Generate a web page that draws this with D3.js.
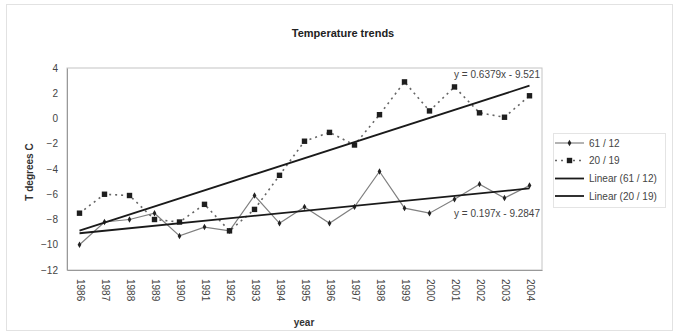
<!DOCTYPE html>
<html>
<head>
<meta charset="utf-8">
<script src="https://cdn.jsdelivr.net/npm/d3@7"></script>
<style>
  html, body { margin: 0; padding: 0; background: #fff; }
  svg { display: block; font-family: "Liberation Sans", Arial, sans-serif; }
</style>
</head>
<body>
<svg id="chart" width="678" height="334"></svg>
<script>
// Annual temperatures at two stations, 1986–2004
const years = ["1986","1987","1988","1989","1990","1991","1992","1993","1994","1995",
               "1996","1997","1998","1999","2000","2001","2002","2003","2004"];
const station61 = [-10.0,-8.2,-8.0,-7.5,-9.3,-8.6,-8.9,-6.1,-8.3,-7.0,
                   -8.3,-7.0,-4.2,-7.1,-7.5,-6.4,-5.2,-6.3,-5.3];
const station20 = [-7.5,-6.0,-6.1,-8.0,-8.2,-6.8,-8.9,-7.2,-4.5,-1.8,
                   -1.1,-2.1,0.3,2.9,0.6,2.5,0.45,0.1,1.8];
const yTicks = [4,2,0,-2,-4,-6,-8,-10,-12];

// Linear trend coefficients (x = 1..19)
const trendSlopes = [0.197, 0.6379];
const trendIntercepts = [-9.2847, -9.521];
const trendLabels = ["y = 0.197x - 9.2847", "y = 0.6379x - 9.521"];

const legendLabels = ["61 / 12", "20 / 19", "Linear (61 / 12)", "Linear (20 / 19)"];

const svg = d3.select("#chart");
const plot = { left: 67, right: 542, top: 68, bottom: 270 };

const x = d3.scalePoint().domain(years).range([plot.left, plot.right]).padding(0.5);
const y = d3.scaleLinear().domain([-12, 4]).range([plot.bottom, plot.top]);
const xi = i => x(years[i - 1]);

// outer chart frame
svg.append("rect").attr("x", 6.5).attr("y", 4.5).attr("width", 666).attr("height", 326)
  .attr("fill", "none").attr("stroke", "#e2e2e2");

// title
svg.append("text").attr("x", 343).attr("y", 37).attr("text-anchor", "middle")
  .attr("font-size", 11).attr("font-weight", "bold").attr("fill", "#222")
  .text("Temperature trends");

// plot area frame
svg.append("rect").attr("x", plot.left).attr("y", plot.top)
  .attr("width", plot.right - plot.left).attr("height", plot.bottom - plot.top)
  .attr("fill", "none").attr("stroke", "#c4c4c4");

// y axis
const yAxis = svg.append("g").attr("transform", `translate(${plot.left},0)`)
  .call(d3.axisLeft(y).tickValues(yTicks).tickSize(0).tickPadding(9).tickFormat(d3.format("d")));
yAxis.select(".domain").attr("stroke", "#999");
yAxis.selectAll("text").attr("font-size", 10).attr("fill", "#444")
  .attr("font-family", "Liberation Sans, Arial, sans-serif");

// x axis
const xAxis = svg.append("g").attr("transform", `translate(0,${plot.bottom})`)
  .call(d3.axisBottom(x).tickSize(0));
xAxis.select(".domain").attr("stroke", "#999");
xAxis.selectAll("text").attr("font-size", 10).attr("fill", "#444")
  .attr("font-family", "Liberation Sans, Arial, sans-serif")
  .attr("transform", "rotate(90)").attr("text-anchor", "start")
  .attr("x", 9).attr("y", 0).attr("dy", "0.35em");

// axis titles
svg.append("text").attr("transform", "translate(33,172) rotate(-90)")
  .attr("text-anchor", "middle").attr("font-size", 10).attr("font-weight", "bold")
  .attr("fill", "#333").text("T degrees C");
svg.append("text").attr("x", 304).attr("y", 326).attr("text-anchor", "middle")
  .attr("font-size", 10).attr("font-weight", "bold").attr("fill", "#333").text("year");

const line = d3.line().x((d, i) => x(years[i])).y(d => y(d));

// series 61/12: solid grey line with small black markers
svg.append("path").datum(station61).attr("d", line)
  .attr("fill", "none").attr("stroke", "#808080").attr("stroke-width", 1.2);
svg.append("g").selectAll("path").data(station61).join("path")
  .attr("d", d3.symbol(d3.symbolDiamond, 12))
  .attr("transform", (d, i) => `translate(${x(years[i])},${y(d)})`)
  .attr("fill", "#222");

// series 20/19: dotted line with square markers
svg.append("path").datum(station20).attr("d", line)
  .attr("fill", "none").attr("stroke", "#666").attr("stroke-width", 1.6)
  .attr("stroke-dasharray", "2,4");
svg.append("g").selectAll("rect").data(station20).join("rect")
  .attr("x", (d, i) => x(years[i]) - 2.7).attr("y", d => y(d) - 2.7)
  .attr("width", 5.4).attr("height", 5.4).attr("fill", "#1e1e1e");

// linear trend lines
trendSlopes.forEach((m, k) => {
  const b = trendIntercepts[k];
  svg.append("line")
    .attr("x1", xi(1)).attr("y1", y(m * 1 + b))
    .attr("x2", xi(years.length)).attr("y2", y(m * years.length + b))
    .attr("stroke", "#1a1a1a").attr("stroke-width", 1.8);
});

// trend equations
svg.append("text").attr("x", 540).attr("y", 78).attr("text-anchor", "end")
  .attr("font-size", 10).attr("fill", "#444").text(trendLabels[1]);
svg.append("text").attr("x", 540).attr("y", 217).attr("text-anchor", "end")
  .attr("font-size", 10).attr("fill", "#444").text(trendLabels[0]);

// legend
const lg = svg.append("g").attr("transform", "translate(553,133)");
lg.append("rect").attr("x", 0.5).attr("y", 0.5).attr("width", 112).attr("height", 74)
  .attr("fill", "none").attr("stroke", "#e4e4e4");
const rowY = [10, 27.5, 45.5, 63];
legendLabels.forEach((lab, k) => {
  const g = lg.append("g").attr("transform", `translate(0,${rowY[k]})`);
  const ln = g.append("line").attr("x1", 2).attr("x2", 31).attr("y1", 0).attr("y2", 0);
  if (k === 0) {
    ln.attr("stroke", "#808080").attr("stroke-width", 1.2);
    g.append("path").attr("d", d3.symbol(d3.symbolDiamond, 12)).attr("transform", "translate(16.5,0)").attr("fill", "#222");
  } else if (k === 1) {
    ln.attr("stroke", "#666").attr("stroke-width", 1.6).attr("stroke-dasharray", "2,4");
    g.append("rect").attr("x", 13.8).attr("y", -2.7).attr("width", 5.4).attr("height", 5.4).attr("fill", "#1e1e1e");
  } else {
    ln.attr("stroke", "#1a1a1a").attr("stroke-width", 1.8);
  }
  g.append("text").attr("x", 36).attr("y", 0).attr("dy", "0.35em")
    .attr("font-size", 10).attr("fill", "#444").text(lab);
});
</script>
</body>
</html>
